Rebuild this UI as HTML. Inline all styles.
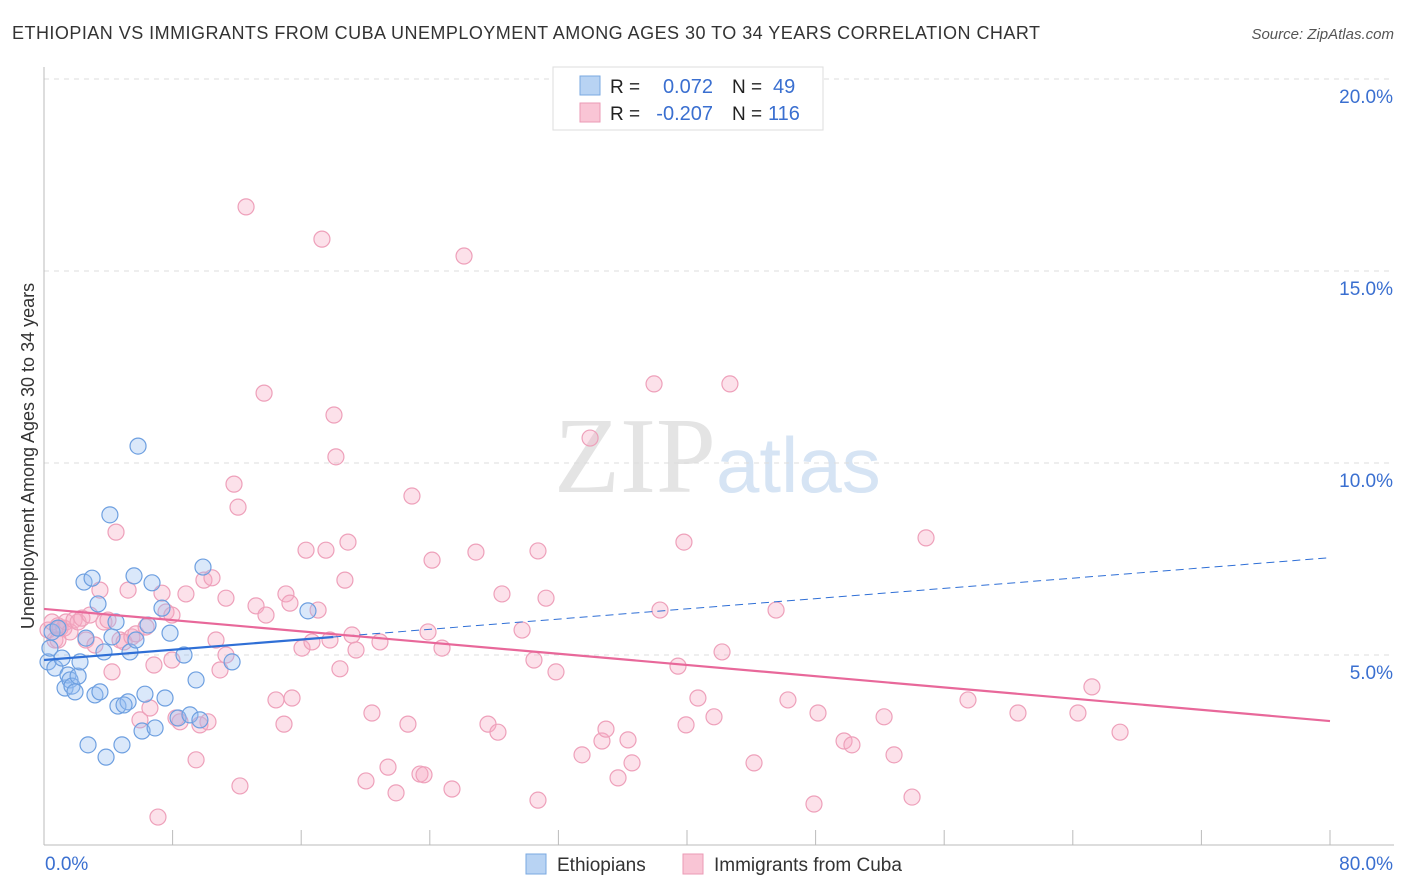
<!DOCTYPE html>
<html><head><meta charset="utf-8">
<style>
body{margin:0;background:#fff;font-family:"Liberation Sans",sans-serif;}
#wrap{position:relative;width:1406px;height:892px;overflow:hidden;}
</style></head>
<body><div id="wrap">
<svg id="chart" width="1406" height="892" xmlns="http://www.w3.org/2000/svg">
<text x="12" y="39" font-size="18" fill="#333" textLength="1028" lengthAdjust="spacing">ETHIOPIAN VS IMMIGRANTS FROM CUBA UNEMPLOYMENT AMONG AGES 30 TO 34 YEARS CORRELATION CHART</text>
<text x="1394" y="39" font-size="15" fill="#555" font-style="italic" text-anchor="end">Source: ZipAtlas.com</text>
<text x="716" y="492" font-size="108" fill="#e4e4e4" text-anchor="end" font-family="Liberation Serif">ZIP</text>
<text x="716" y="492" font-size="78" fill="#d6e4f4">atlas</text>
<g id="grid"></g><g id="axes"></g><g id="pts"></g><g id="lines"></g>
<text transform="translate(34,456) rotate(-90)" font-size="18" fill="#333" text-anchor="middle">Unemployment Among Ages 30 to 34 years</text>
<g>
<rect x="553" y="67" width="270" height="63" fill="#fff" stroke="#ddd"/>
<rect x="580" y="76" width="20" height="19" fill="#b8d3f3" stroke="#7aa8e0"/>
<rect x="580" y="103" width="20" height="19" fill="#f9c5d5" stroke="#eb9ab5"/>
<text x="610" y="93" font-size="19" fill="#222">R = </text><text x="713" y="93" font-size="20" fill="#3a6fd0" text-anchor="end">0.072</text>
<text x="732" y="93" font-size="19" fill="#222">N = </text><text x="773" y="93" font-size="20" fill="#3a6fd0">49</text>
<text x="610" y="120" font-size="19" fill="#222">R = </text><text x="713" y="120" font-size="20" fill="#3a6fd0" text-anchor="end">-0.207</text>
<text x="732" y="120" font-size="19" fill="#222">N = </text><text x="768" y="120" font-size="20" fill="#3a6fd0">116</text>
</g>
<g>
<rect x="526" y="854" width="20" height="20" fill="#b8d3f3" stroke="#7aa8e0"/>
<text x="557" y="871" font-size="19" fill="#333">Ethiopians</text>
<rect x="683" y="854" width="20" height="20" fill="#f9c5d5" stroke="#eb9ab5"/>
<text x="714" y="871" font-size="19" fill="#333">Immigrants from Cuba</text>
</g>
</svg></div>
<script>
const yTicks=[5,10,15,20];
const yTickLabels=["5.0%","10.0%","15.0%","20.0%"];
const xTicks=[0,8,16,24,32,40,48,56,64,72,80];
const xEndLabels=["0.0%","80.0%"];
const blueX=[0.25,0.37,0.5,0.68,0.87,1.12,1.31,1.49,1.62,1.74,1.93,2.12,2.24,2.49,2.61,2.74,2.99,3.17,3.36,3.48,3.73,3.86,4.1,4.23,4.48,4.6,4.85,5.23,5.35,5.6,5.72,6.1,6.28,6.47,6.72,6.91,7.34,7.53,7.84,8.34,8.71,9.08,9.46,9.7,9.89,11.7,16.42,5.85,4.98];
const blueY=[4.82,5.18,5.6,4.66,5.7,4.92,4.14,4.48,4.35,4.19,4.04,4.45,4.82,6.9,5.44,2.66,7.0,3.96,6.33,4.04,5.08,2.34,8.65,5.47,5.86,3.67,2.66,3.78,5.08,7.06,5.39,3.02,3.98,5.78,6.88,3.1,6.22,3.88,5.57,3.36,5.0,3.44,4.35,3.31,7.29,4.82,6.15,10.44,3.7];
const pinkX=[0.25,0.5,0.68,0.87,1.0,1.24,1.37,1.62,1.87,2.12,2.36,2.61,2.86,3.17,3.48,3.73,3.98,4.23,4.48,4.73,4.98,5.23,5.47,5.72,5.97,6.35,6.59,6.84,7.09,7.34,7.59,7.96,8.21,8.46,8.83,9.46,9.7,9.95,10.2,10.45,10.7,10.95,11.32,11.82,12.07,12.19,12.57,13.19,13.69,13.81,14.43,14.93,15.05,15.3,15.43,16.05,16.3,16.67,17.05,17.29,17.54,17.79,18.04,18.16,18.41,18.72,18.91,19.16,19.41,20.03,20.4,20.9,21.4,21.9,22.64,22.89,23.39,23.64,23.89,24.14,24.76,25.38,26.13,26.87,27.62,28.24,28.49,29.74,30.48,30.73,30.73,31.23,31.85,33.47,33.97,34.71,34.96,35.71,36.33,36.58,37.95,38.32,39.44,39.81,39.94,40.68,41.68,42.18,42.67,44.17,45.54,46.28,47.9,48.15,49.77,50.26,52.26,52.88,54.0,54.87,57.48,60.59,64.32,65.19,66.94,0.87,7.96,11.32];
const pinkY=[5.65,5.86,5.39,5.76,5.7,5.7,5.86,5.6,5.91,5.86,5.96,5.39,6.04,5.26,6.69,5.86,5.91,4.56,8.2,5.39,5.34,6.69,5.47,5.55,3.31,5.73,3.62,4.74,0.78,6.61,6.12,4.87,3.36,3.26,6.59,2.27,3.18,6.95,3.26,7.01,5.39,4.61,5.0,9.45,8.85,1.59,16.67,6.28,11.82,6.04,3.83,3.2,6.59,6.35,3.88,5.18,7.73,5.34,6.17,15.83,7.73,5.39,11.25,10.16,4.64,6.95,7.94,5.52,5.13,1.72,3.49,5.34,2.08,1.41,3.2,9.14,1.9,1.88,5.6,7.47,5.18,1.51,15.39,7.68,3.2,2.99,6.59,5.65,4.87,1.22,7.71,6.48,4.56,2.4,10.65,2.76,3.07,1.8,2.79,2.19,12.06,6.17,4.71,7.94,3.18,3.88,3.39,5.08,12.06,2.19,6.17,3.83,1.12,3.49,2.76,2.66,3.39,2.4,1.3,8.05,3.83,3.49,3.49,4.17,2.99,5.39,6.04,6.48];
const blueTrend=[4.87,0.0333];   // intercept, slope (% per %)
const pinkTrend=[6.2,-0.0365];
const blueSolidEnd=18;

const X0=44,X1=1330,Y0=847;
const xs=v=>X0+(X1-X0)*v/80;
const ys=v=>Y0-v*38.4;
const NS="http://www.w3.org/2000/svg";
function mk(tag,parent,attrs){const e=document.createElementNS(NS,tag);for(const k in attrs)e.setAttribute(k,attrs[k]);document.getElementById(parent).appendChild(e);return e;}

yTicks.forEach((t,i)=>{
  const g=mk('line','grid',{x1:X0,x2:1394,y1:ys(t),y2:ys(t),stroke:'#dcdcdc','stroke-dasharray':'5,5'});
  
  
  const l=mk('text','grid',{x:1393,y:ys(t)+24,'font-size':19,fill:'#3a6fd0','text-anchor':'end'});
  l.textContent=yTickLabels[i];
  
  
});
const ax=mk('line','axes',{x1:X0,x2:X0,y1:67,y2:845,stroke:'#bbb'});


const bx=mk('line','axes',{x1:X0,x2:1394,y1:845,y2:845,stroke:'#bbb'});


xTicks.forEach(t=>{
  const k=mk('line','axes',{x1:xs(t),x2:xs(t),y1:830,y2:845,stroke:'#bbb'});
  
  
});
const xl0=mk('text','axes',{x:45,y:870,'font-size':19,fill:'#3a6fd0'});
xl0.textContent=xEndLabels[0];


const xl1=mk('text','axes',{x:1393,y:870,'font-size':19,fill:'#3a6fd0','text-anchor':'end'});
xl1.textContent=xEndLabels[1];



pinkX.forEach((x,i)=>{
  const c=mk('circle','pts',{cx:xs(x),cy:ys(pinkY[i]),r:8,fill:'rgba(246,170,195,0.35)',stroke:'#eea0ba','stroke-width':1.2});
  
  
});
blueX.forEach((x,i)=>{
  const c=mk('circle','pts',{cx:xs(x),cy:ys(blueY[i]),r:8,fill:'rgba(150,190,240,0.35)',stroke:'#6d9fe0','stroke-width':1.2});
  
  
});
const bt=x=>blueTrend[0]+blueTrend[1]*x, pt=x=>pinkTrend[0]+pinkTrend[1]*x;
const l1=mk('line','lines',{x1:xs(0),y1:ys(bt(0)),x2:xs(blueSolidEnd),y2:ys(bt(blueSolidEnd)),stroke:'#2f6fd6','stroke-width':2.2});


const l2=mk('line','lines',{x1:xs(blueSolidEnd),y1:ys(bt(blueSolidEnd)),x2:xs(80),y2:ys(bt(80)),stroke:'#2f6fd6','stroke-width':1,'stroke-dasharray':'8,5'});


const l3=mk('line','lines',{x1:xs(0),y1:ys(pt(0)),x2:xs(80),y2:ys(pt(80)),stroke:'#e8689a','stroke-width':2.2});


</script>
</body></html>
